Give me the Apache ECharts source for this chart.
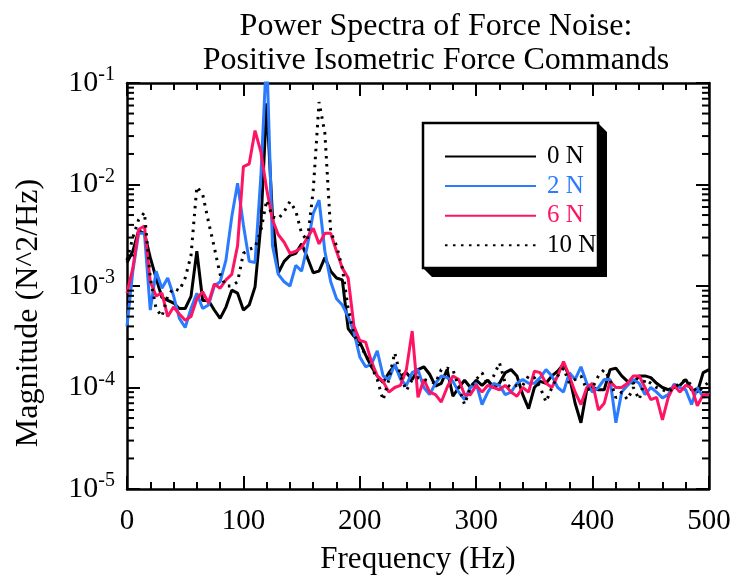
<!DOCTYPE html>
<html><head><meta charset="utf-8">
<script src="https://cdn.jsdelivr.net/npm/echarts@6/dist/echarts.min.js"></script>
<style>html,body{margin:0;padding:0;background:#fff}#c{width:738px;height:580px}</style>
</head><body><div id="c"></div>
<script>
const freq = [0,5,10,15,20,25,30,35,40,45,50,55,60,65,70,75,80,85,90,95,
100,105,110,115,120,125,130,135,140,145,150,155,160,165,170,175,180,185,190,195,
200,205,210,215,220,225,230,235,240,245,250,255,260,265,270,275,280,285,290,295,
300,305,310,315,320,325,330,335,340,345,350,355,360,365,370,375,380,385,390,395,
400,405,410,415,420,425,430,435,440,445,450,455,460,465,470,475,480,485,490,495,500];

const mag0N = [1.7e-3,2.2e-3,3.5e-3,3.3e-3,1.9e-3,1.2e-3,7.7e-4,7.2e-4,6.8e-4,6.0e-4,
6.0e-4,7.9e-4,2.2e-3,7.2e-4,7.2e-4,5.8e-4,4.8e-4,6.2e-4,9.1e-4,8.5e-4,
5.8e-4,6.5e-4,9.8e-4,4.0e-3,6.3e-2,4.8e-3,1.35e-3,1.75e-3,2.0e-3,2.1e-3,
2.6e-3,1.9e-3,1.35e-3,1.4e-3,1.9e-3,1.4e-3,1.2e-3,1.15e-3,3.8e-4,3.2e-4,
2.8e-4,2.1e-4,1.6e-4,1.3e-4,1.12e-4,1.4e-4,1.65e-4,1.3e-4,1.4e-4,1.2e-4,
1.5e-4,1.6e-4,1.35e-4,1.03e-4,1.1e-4,1.5e-4,8.2e-5,1.0e-4,1.18e-4,1.0e-4,
1.18e-4,1.05e-4,1.18e-4,1.0e-4,1.1e-4,1.4e-4,1.5e-4,1.3e-4,8.5e-5,6.2e-5,
1.0e-4,1.15e-4,1.1e-4,1.3e-4,1.45e-4,1.7e-4,1.3e-4,7e-5,4.5e-5,9.5e-5,
1.0e-4,9.5e-5,9.5e-5,1.5e-4,1.55e-4,1.3e-4,1.15e-4,1.1e-4,1.3e-4,1.3e-4,
1.25e-4,1.1e-4,1.0e-4,9.5e-5,1.0e-4,1.05e-4,1.2e-4,9.5e-5,9e-5,1.4e-4,1.5e-4];

const mag2N = [4e-4,1.4e-3,3.3e-3,3.3e-3,5.8e-4,1.4e-3,9.5e-4,1.2e-3,8e-4,4.8e-4,
3.9e-4,6e-4,8.5e-4,6e-4,6.5e-4,1.0e-3,1.1e-3,1.8e-3,4.8e-3,1.03e-2,
4e-3,1.75e-3,1.7e-3,1.2e-2,2e-1,2.5e-3,1.3e-3,1.1e-3,1.0e-3,1.6e-3,
1.4e-3,2.5e-3,5.2e-3,7e-3,2.2e-3,1.1e-3,7.5e-4,6.5e-4,5e-4,3.5e-4,
2e-4,1.6e-4,1.7e-4,2.3e-4,1.3e-4,1.2e-4,1.7e-4,1.2e-4,1.05e-4,1.4e-4,
1.5e-4,1.0e-4,8.5e-5,1.1e-4,1.3e-4,1.25e-4,1.15e-4,9e-5,7.6e-5,1.0e-4,
1.1e-4,6.8e-5,9e-5,1.1e-4,1.05e-4,8.5e-5,9e-5,1.1e-4,1.2e-4,1.1e-4,
1.1e-4,1.25e-4,1.5e-4,1.3e-4,1.0e-4,9e-5,1.4e-4,1.2e-4,1.6e-4,1.1e-4,
9e-5,1.0e-4,1.2e-4,1.2e-4,4.5e-5,9e-5,1.05e-4,1.2e-4,1.1e-4,8.5e-5,
1.0e-4,9e-5,7.9e-5,8.5e-5,1.08e-4,1.0e-4,9.5e-5,6.8e-5,1.0e-4,8e-5,9e-5];

const mag6N = [8.5e-4,1.5e-3,3.6e-3,3.9e-3,1.1e-3,8e-4,8.5e-4,5e-4,6.2e-4,5.3e-4,
4.6e-4,5e-4,7.5e-4,8.8e-4,6.8e-4,1.05e-3,9.5e-4,1.15e-3,1.3e-3,2.5e-3,
1.5e-2,1.6e-2,3.4e-2,2.1e-2,9e-3,4.5e-3,3.2e-3,2.7e-3,2.1e-3,2.2e-3,
2.4e-3,3.0e-3,3.7e-3,2.6e-3,3.3e-3,3.3e-3,2.2e-3,1.5e-3,1.2e-3,4e-4,
2.9e-4,2.8e-4,1.8e-4,1.3e-4,1.15e-4,9e-5,1.0e-4,1.05e-4,1.5e-4,3.6e-4,
8e-5,1.2e-4,9e-5,8.5e-5,7.2e-5,1.0e-4,1.3e-4,1.2e-4,8.5e-5,8.5e-5,
1.05e-4,9e-5,1.05e-4,1.0e-4,9.5e-5,1.05e-4,9e-5,8.2e-5,1.0e-4,9e-5,
1.45e-4,1.4e-4,1.1e-4,1.0e-4,1.3e-4,1.8e-4,1.3e-4,9e-5,6.8e-5,1.0e-4,
1.1e-4,6e-5,7e-5,1.15e-4,1.0e-4,1.0e-4,1.1e-4,1.3e-4,1.3e-4,1.0e-4,
7.6e-5,8e-5,4.8e-5,8e-5,1.05e-4,9e-5,1.05e-4,1.0e-4,6.6e-5,8.5e-5,8.5e-5];

const mag10N = [1.8e-3,3e-3,4.5e-3,5.3e-3,1.2e-3,6e-4,5e-4,8e-4,9.5e-4,9e-4,
1.2e-3,2e-3,9.5e-3,8e-3,4.3e-3,2.4e-3,1.3e-3,1.0e-3,1.0e-3,1.1e-3,
2.1e-3,2.3e-3,2.4e-3,3.5e-3,7e-3,4.8e-3,4.6e-3,5.4e-3,6.8e-3,5.5e-3,
3.3e-3,2.8e-3,8.8e-3,6.5e-2,3.2e-2,3.4e-3,2.5e-3,1.5e-3,6e-4,3.3e-4,
2.6e-4,2.1e-4,1.6e-4,1.2e-4,7.5e-5,1.2e-4,2.2e-4,1.3e-4,9.3e-5,1.2e-4,
1.25e-4,1.2e-4,1.15e-4,1.1e-4,1.5e-4,1.55e-4,1.5e-4,1.0e-4,6.8e-5,1.0e-4,
1.2e-4,1.4e-4,1.05e-4,1.3e-4,1.75e-4,1.1e-4,1.0e-4,1.05e-4,1.05e-4,1.3e-4,
1.25e-4,1.0e-4,7.2e-5,1.0e-4,1.3e-4,1.55e-4,1.1e-4,1.2e-4,1.3e-4,9.5e-5,
1.0e-4,1.3e-4,1.5e-4,1.2e-4,7.9e-5,9e-5,7.6e-5,1.0e-4,7.6e-5,1.2e-4,
1.1e-4,1.0e-4,9.5e-5,9e-5,1.0e-4,1.1e-4,1.2e-4,1.05e-4,9e-5,1.0e-4,1.15e-4];

const seriesNames = ['0 N', '2 N', '6 N', '10 N'];
const seriesColors = ['#000000', '#2b7bff', '#ff1464', '#000000'];
const xTicks = [0, 100, 200, 300, 400, 500];
const yMinorTicks = [2e-5,3e-5,4e-5,5e-5,6e-5,7e-5,8e-5,9e-5,
2e-4,3e-4,4e-4,5e-4,6e-4,7e-4,8e-4,9e-4,
2e-3,3e-3,4e-3,5e-3,6e-3,7e-3,8e-3,9e-3,
2e-2,3e-2,4e-2,5e-2,6e-2,7e-2,8e-2,9e-2];

const FONT = '"Liberation Serif", "DejaVu Serif", serif';
const chart = echarts.init(document.getElementById('c'), null, {renderer: 'canvas'});

function pairs(vals) { return freq.map((f, i) => [f, vals[i]]); }
const allMags = [mag0N, mag2N, mag6N, mag10N];

const lineSeries = allMags.map((m, i) => ({
  name: seriesNames[i],
  type: 'line',
  data: pairs(m),
  symbol: 'none',
  clip: true,
  z: 3 + i,
  lineStyle: {
    color: seriesColors[i],
    width: 3,
    type: i === 3 ? [2.5, 5.5] : 'solid'
  },
  itemStyle: {color: seriesColors[i]}
}));

const tickSeries = {
  type: 'custom',
  name: 'minorTicks',
  data: yMinorTicks.map(v => [0, v]),
  silent: true,
  z: 10,
  renderItem: function (params, api) {
    const v = api.value(1);
    const pL = api.coord([0, v]);
    const pR = api.coord([500, v]);
    return {
      type: 'group',
      children: [
        {type: 'line', shape: {x1: pL[0], y1: pL[1], x2: pL[0] + 7, y2: pL[1]}, style: {stroke: '#000', lineWidth: 2}},
        {type: 'line', shape: {x1: pR[0], y1: pR[1], x2: pR[0] - 7, y2: pR[1]}, style: {stroke: '#000', lineWidth: 2}}
      ]
    };
  }
};

const axisLineStyle = {show: true, onZero: false, lineStyle: {color: '#000', width: 2.5}};

const yLabelFmt = function (v) {
  const e = Math.round(Math.log10(v));
  return '{b|10}{s|' + e + '}';
};

const option = {
  backgroundColor: '#fff',
  animation: false,
  title: {
    text: 'Power Spectra of Force Noise:\nPositive Isometric Force Commands',
    left: 431, top: 5, textAlign: 'center',
    textStyle: {fontFamily: FONT, fontSize: 32, fontWeight: 'normal', color: '#000', lineHeight: 34}
  },
  grid: {left: 127, right: 29, top: 83, bottom: 91, containLabel: false},
  legend: {
    show: true,
    orient: 'vertical',
    left: 444, top: 144,
    padding: 0,
    itemWidth: 91, itemHeight: 1,
    itemGap: 4.6,
    z: 20,
    selectedMode: false,
    itemStyle: {opacity: 0},
    textStyle: {fontFamily: FONT, fontSize: 25, lineHeight: 25, padding: [0, 0, 0, 6]},
    data: seriesNames.map((n, i) => ({name: n, textStyle: {color: seriesColors[i]}}))
  },
  graphic: [
    {type: 'polygon', z: 15, shape: {points: [[598, 123], [607, 132], [607, 277], [432, 277], [423, 268], [598, 268]]}, style: {fill: '#000'}},
    {type: 'rect', z: 16, shape: {x: 423, y: 123, width: 175, height: 145}, style: {fill: '#fff', stroke: '#000', lineWidth: 2.5}}
  ],
  xAxis: [{
    type: 'value', min: 0, max: 500, interval: 100,
    name: 'Frequency (Hz)', nameLocation: 'middle', nameGap: 55,
    nameTextStyle: {fontFamily: FONT, fontSize: 31, color: '#000'},
    axisLine: axisLineStyle,
    axisTick: {show: true, inside: true, length: 13, lineStyle: {color: '#000', width: 2}},
    minorTick: {show: true, splitNumber: 5, length: 7, lineStyle: {color: '#000', width: 2}},
    axisLabel: {fontFamily: FONT, fontSize: 29, color: '#000', margin: 18,
      formatter: v => xTicks.includes(v) ? String(v) : ''},
    splitLine: {show: false}
  }, {
    type: 'value', min: 0, max: 500, interval: 100, position: 'top',
    axisLine: axisLineStyle,
    axisTick: {show: true, inside: true, length: 13, lineStyle: {color: '#000', width: 2}},
    minorTick: {show: true, splitNumber: 5, length: 7, lineStyle: {color: '#000', width: 2}},
    axisLabel: {show: false},
    splitLine: {show: false}
  }],
  yAxis: [{
    type: 'log', logBase: 10, min: 1e-5, max: 1e-1,
    name: 'Magnitude (N^2/Hz)', nameLocation: 'middle', nameGap: 82, nameRotate: 90,
    nameTextStyle: {fontFamily: FONT, fontSize: 32, color: '#000', padding: [0, 54, 0, 0]},
    axisLine: axisLineStyle,
    axisTick: {show: true, inside: true, length: 13, lineStyle: {color: '#000', width: 2}},
    minorTick: {show: false},
    axisLabel: {
      margin: 12, formatter: yLabelFmt,
      rich: {
        b: {fontFamily: FONT, fontSize: 30, color: '#000'},
        s: {fontFamily: FONT, fontSize: 20, color: '#000', padding: [0, 0, 16, 0]}
      }
    },
    splitLine: {show: false}
  }, {
    type: 'log', logBase: 10, min: 1e-5, max: 1e-1, position: 'right',
    axisLine: axisLineStyle,
    axisTick: {show: true, inside: true, length: 13, lineStyle: {color: '#000', width: 2}},
    minorTick: {show: false},
    axisLabel: {show: false},
    splitLine: {show: false}
  }],
  series: [...lineSeries, tickSeries]
};
chart.setOption(option);
</script>
</body></html>
